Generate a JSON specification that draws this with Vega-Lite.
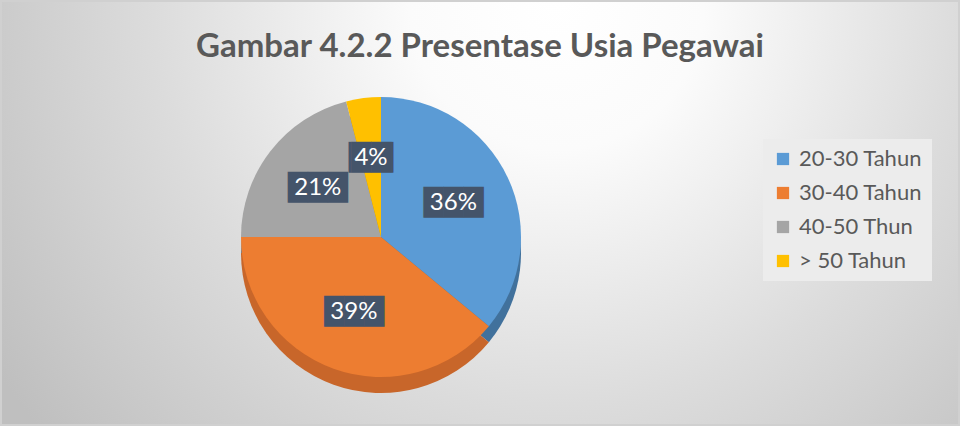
{
  "$schema": "https://vega.github.io/schema/vega-lite/v6.json",
  "width": 960,
  "height": 426,
  "autosize": {"type": "fit", "contains": "padding"},
  "padding": 0,
  "background": "#c8c8c8",
  "title": {
    "text": "Gambar 4.2.2 Presentase Usia Pegawai",
    "orient": "top",
    "anchor": "middle",
    "offset": -64,
    "font": "Lato",
    "fontSize": 33,
    "fontWeight": "bold",
    "color": "#595959"
  },
  "config": {"view": {"stroke": null}},
  "data": {
    "values": [
      {"kelompok": "20-30 Tahun", "persen": 36, "label": "36%", "urut": 1},
      {"kelompok": "30-40 Tahun", "persen": 39, "label": "39%", "urut": 2},
      {"kelompok": "40-50 Thun", "persen": 21, "label": "21%", "urut": 3},
      {"kelompok": "> 50 Tahun", "persen": 4, "label": "4%", "urut": 4}
    ]
  },
  "layer": [
    {
      "data": {"values": [{}]},
      "mark": {
        "type": "rect",
        "stroke": "#d0d0d0",
        "strokeWidth": 2,
        "fill": {
          "gradient": "radial",
          "x1": 0.58, "y1": 0.28, "r1": 0,
          "x2": 0.58, "y2": 0.28, "r2": 0.7,
          "stops": [
            {"offset": 0, "color": "#ffffff"},
            {"offset": 0.22, "color": "#fbfbfb"},
            {"offset": 0.6, "color": "#dcdcdc"},
            {"offset": 1, "color": "#bfbfbf"}
          ]
        }
      },
      "encoding": {}
    },
    {
      "mark": {"type": "arc", "outerRadius": 140, "x": 380, "y": 252},
      "encoding": {
        "theta": {"field": "persen", "type": "quantitative", "stack": true},
        "order": {"field": "urut", "type": "quantitative"},
        "color": {
          "field": "kelompok",
          "type": "nominal",
          "scale": {
            "domain": ["20-30 Tahun", "30-40 Tahun", "40-50 Thun", "> 50 Tahun"],
            "range": ["#41719c", "#c8662a", "#7f7f7f", "#bf9000"]
          },
          "legend": null
        }
      }
    },
    {
      "mark": {"type": "arc", "outerRadius": 140, "x": 380, "y": 236},
      "encoding": {
        "theta": {"field": "persen", "type": "quantitative", "stack": true},
        "order": {"field": "urut", "type": "quantitative"},
        "color": {
          "field": "kelompok",
          "type": "nominal",
          "scale": {
            "domain": ["20-30 Tahun", "30-40 Tahun", "40-50 Thun", "> 50 Tahun"],
            "range": ["#5b9bd5", "#ed7d31", "#a5a5a5", "#ffc000"]
          },
          "legend": {
            "title": null,
            "orient": "none",
            "legendX": 762,
            "legendY": 138,
            "padding": 9,
            "fillColor": "#ececec",
            "symbolType": "square",
            "symbolSize": 150,
            "symbolStrokeWidth": 0,
            "labelFont": "Lato",
            "labelFontSize": 22,
            "labelColor": "#595959",
            "rowPadding": 12,
            "labelOffset": 5
          }
        }
      }
    },
    {
      "mark": {
        "type": "text",
        "radius": 80,
        "x": 380,
        "y": 236,
        "font": "DejaVu Sans",
        "fontSize": 26,
        "fill": "#44546a"
      },
      "encoding": {
        "theta": {"field": "persen", "type": "quantitative", "stack": true},
        "order": {"field": "urut", "type": "quantitative"},
        "text": {
          "condition": {"test": "datum.urut == 4", "value": "▕██▏"},
          "value": "███"
        }
      }
    },
    {
      "mark": {
        "type": "text",
        "radius": 80,
        "x": 380,
        "y": 236,
        "font": "Lato",
        "fontSize": 24,
        "fill": "#ffffff"
      },
      "encoding": {
        "theta": {"field": "persen", "type": "quantitative", "stack": true},
        "order": {"field": "urut", "type": "quantitative"},
        "text": {"field": "label"}
      }
    }
  ],
  "resolve": {"scale": {"color": "independent"}}
}
